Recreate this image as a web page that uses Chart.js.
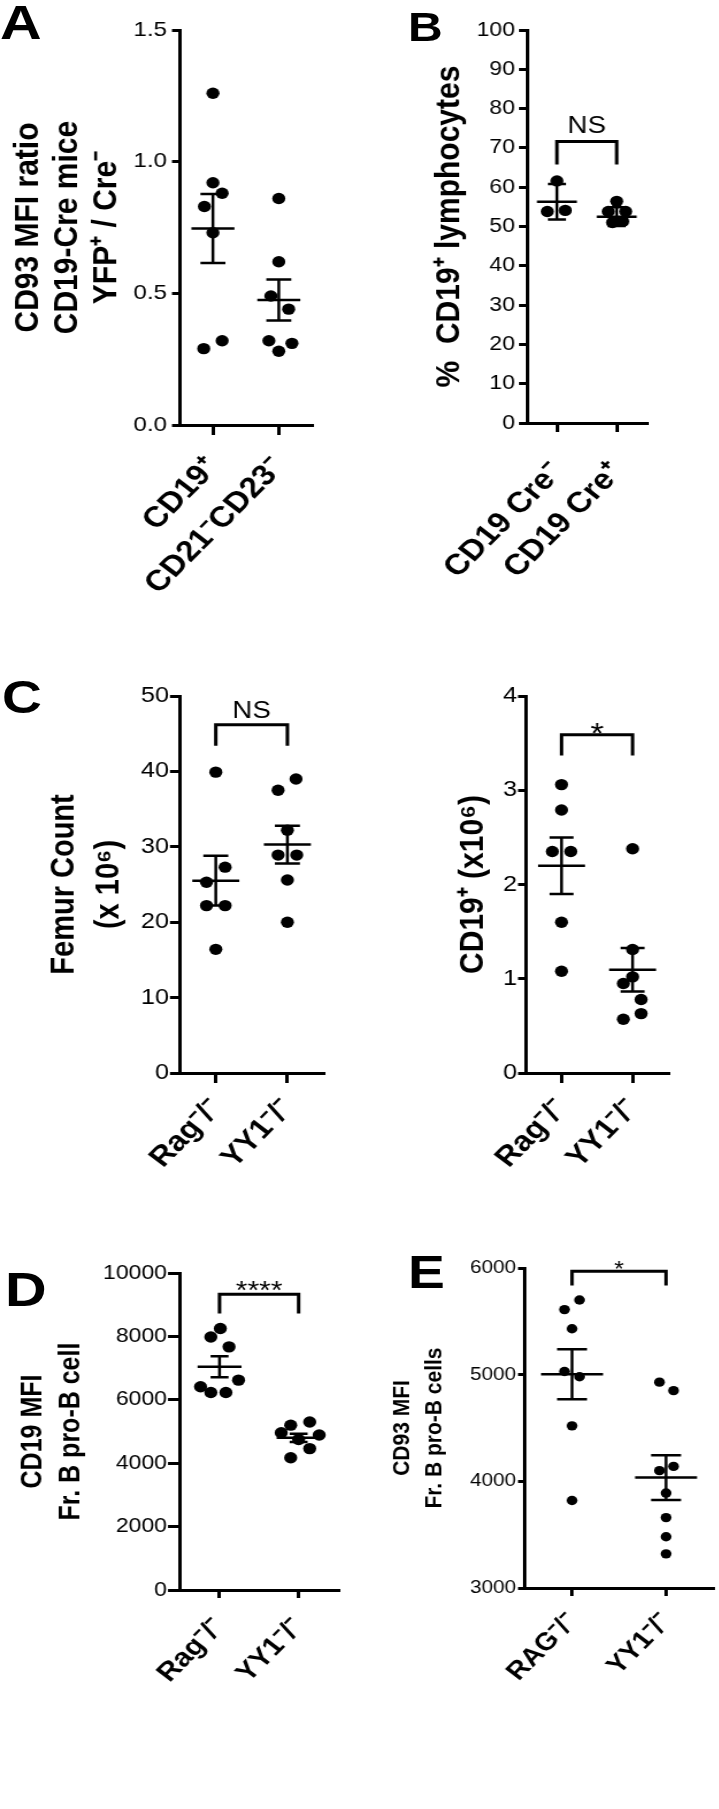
<!DOCTYPE html>
<html lang="en">
<head>
<meta charset="UTF-8">
<title>CD93 / CD19 dot plots</title>
<script src="https://cdn.jsdelivr.net/npm/chart.js"></script>
<style>
  body {
    margin: 0;
    width: 719px;
    height: 1809px;
    position: relative;
    overflow: hidden;
    background: #fff;
    font-family: 'Liberation Sans', Arial, sans-serif;
  }
  canvas { position: absolute; transform-origin: 0 0; }
  .tag {
    position: absolute; font-weight: bold; line-height: 1; color: #000;
    transform: scaleX(1.2); transform-origin: 0 0;
  }
</style>
</head>
<body>
<canvas id="panelA"></canvas>
<canvas id="panelB"></canvas>
<canvas id="panelC1"></canvas>
<canvas id="panelC2"></canvas>
<canvas id="panelD"></canvas>
<canvas id="panelE"></canvas>

<div class="tag" style="left:0;top:-1px;font-size:48px">A</div>
<div class="tag" style="left:408px;top:7px;font-size:40px">B</div>
<div class="tag" style="left:2px;top:674px;font-size:46px">C</div>
<div class="tag" style="left:5px;top:1266px;font-size:48px">D</div>
<div class="tag" style="left:408px;top:1249px;font-size:46px">E</div>

<script>
// A: CD93 MFI ratio
const aLabels = ['CD19⁺', 'CD21⁻CD23⁻'];
const aCd19 = [1.26, 0.92, 0.88, 0.83, 0.73, 0.29, 0.32];
const aCd19Jitter = [0, 0, 0.14, -0.13, 0, -0.14, 0.14];
const aCd21 = [0.86, 0.62, 0.49, 0.44, 0.32, 0.28, 0.31];
const aCd21Jitter = [0, 0, -0.12, 0.15, -0.15, 0, 0.2];
const aMean = [0.746, 0.475];
const aSem = [0.131, 0.078];

// B: % CD19+ lymphocytes
const bLabels = ['CD19 Cre⁻', 'CD19 Cre⁺'];
const bCreNeg = [61.6, 53.8, 54.1];
const bCreNegJitter = [0, -0.16, 0.14];
const bCrePos = [56.4, 53.8, 53.8, 51.0, 51.3];
const bCrePosJitter = [0, -0.14, 0.15, -0.07, 0.1];
const bMean = [56.3, 52.5];
const bSem = [4.5, 2.4];

// C: femur count and CD19+ count
const cLabels = ['Rag⁻/⁻', 'YY1⁻/⁻'];
const cFemurRag = [39.9, 27.3, 25.3, 22.2, 22.2, 16.4];
const cFemurRagJitter = [0, 0.13, -0.13, -0.13, 0.13, 0];
const cFemurYy1 = [39.0, 37.5, 32.2, 28.9, 28.9, 25.6, 20.0];
const cFemurYy1Jitter = [0.12, -0.13, 0, -0.13, 0.13, 0, 0];
const cFemurMean = [25.5, 30.3];
const cFemurSem = [3.3, 2.5];

const cCd19Rag = [3.06, 2.79, 2.35, 2.35, 1.60, 1.08];
const cCd19RagJitter = [0, 0, -0.13, 0.13, 0, 0];
const cCd19Yy1 = [2.38, 1.31, 1.02, 0.95, 0.78, 0.63, 0.57];
const cCd19Yy1Jitter = [0, 0, 0, -0.13, 0.12, 0.12, -0.13];
const cCd19Mean = [2.20, 1.095];
const cCd19Sem = [0.30, 0.23];

// D: CD19 MFI
const dLabels = ['Rag⁻/⁻', 'YY1⁻/⁻'];
const dRag = [8250, 7980, 7670, 6620, 6410, 6230, 6230];
const dRagJitter = [0.01, -0.11, 0.12, 0.24, -0.24, -0.11, 0.08];
const dYy1 = [4960, 5200, 5300, 4890, 4750, 4460, 4170];
const dYy1Jitter = [-0.22, -0.1, 0.14, 0.26, 0, 0.14, -0.1];
const dMean = [7040, 4800];
const dSem = [330, 130];

// E: CD93 MFI
const eLabels = ['RAG⁻/⁻', 'YY1⁻/⁻'];
const eRag = [5700, 5610, 5430, 5030, 4980, 4520, 3820];
const eRagJitter = [0.08, -0.08, 0, -0.08, 0.08, 0, 0];
const eYy1 = [4930, 4850, 4100, 4140, 3890, 3660, 3480, 3320];
const eYy1Jitter = [-0.07, 0.08, -0.07, 0.08, 0, 0, 0, 0];
const eMean = [5004, 4035];
const eSem = [235, 210];

// the original figure is a bit wider than tall, so every canvas is widened the same way
const STRETCH = 1.15;

Chart.defaults.font.family = "'Liberation Sans', Arial, sans-serif";
Chart.defaults.color = '#000';

// mean +/- SEM bars and the significance bracket
const dotPlotExtras = {
  id: 'dotPlotExtras',
  afterDatasetsDraw(chart, args, opts) {
    const { ctx } = chart;
    const x = chart.scales.x, y = chart.scales.y;
    ctx.save();
    ctx.strokeStyle = '#000';
    ctx.fillStyle = '#000';
    ctx.lineWidth = 2.5;
    opts.means.forEach((m, i) => {
      const cx = x.getPixelForValue(i + 1);
      const ym = y.getPixelForValue(m);
      const yt = y.getPixelForValue(m + opts.sems[i]);
      const yb = y.getPixelForValue(m - opts.sems[i]);
      ctx.beginPath();
      ctx.moveTo(cx - opts.meanHalf, ym); ctx.lineTo(cx + opts.meanHalf, ym);
      ctx.moveTo(cx - opts.capHalf, yt); ctx.lineTo(cx + opts.capHalf, yt);
      ctx.moveTo(cx - opts.capHalf, yb); ctx.lineTo(cx + opts.capHalf, yb);
      ctx.moveTo(cx, yt); ctx.lineTo(cx, yb);
      ctx.stroke();
    });
    const b = opts.bracket;
    if (b) {
      const x1 = x.getPixelForValue(1), x2 = x.getPixelForValue(2);
      const yl = y.getPixelForValue(b.y), tip = y.getPixelForValue(b.tip);
      ctx.lineWidth = 3;
      ctx.beginPath();
      ctx.moveTo(x1, tip); ctx.lineTo(x1, yl); ctx.lineTo(x2, yl); ctx.lineTo(x2, tip);
      ctx.stroke();
      ctx.font = b.size + "px 'Liberation Sans', Arial, sans-serif";
      ctx.textAlign = 'center';
      ctx.textBaseline = 'alphabetic';
      ctx.fillText(b.label, (x1 + x2) / 2, yl - b.gap);
    }
    ctx.restore();
  }
};

// p.box = [left, top, width, height] on the page; horizontal sizes are given in page px
function dotPanel(id, p) {
  const k = STRETCH;
  const [left, top, width, height] = p.box;
  const cv = document.getElementById(id);
  cv.width = Math.round(width / k);
  cv.height = height;
  cv.style.left = left + 'px';
  cv.style.top = top + 'px';
  cv.style.transform = 'scaleX(' + k + ')';

  const lines = Array.isArray(p.title) ? p.title.length : 1;
  const lh = lines > 1 ? p.titleGap / k / p.titleSize : 1.2;
  const rot = Math.atan(k) * 180 / Math.PI;

  return new Chart(cv, {
    type: 'scatter',
    data: {
      datasets: p.groups.map((g, i) => ({
        data: g.vals.map((v, j) => ({ x: i + 1 + g.jitter[j], y: v })),
        pointRadius: p.dot,
        pointHoverRadius: p.dot,
        backgroundColor: '#000',
        borderWidth: 0
      }))
    },
    options: {
      responsive: false,
      animation: false,
      layout: { padding: { top: p.padTop, right: (left + width - p.plotRight) / k, left: 0, bottom: 0 } },
      plugins: {
        legend: { display: false },
        tooltip: { enabled: false },
        dotPlotExtras: {
          means: p.means, sems: p.sems,
          meanHalf: p.meanHalf / k, capHalf: p.capHalf / k,
          bracket: p.bracket
        }
      },
      scales: {
        x: {
          type: 'linear', min: 0.5, max: 2.5,
          afterBuildTicks: s => { s.ticks = [{ value: 1 }, { value: 2 }]; },
          // fixed box: long slanted labels must not squeeze the plot area
          afterFit: s => { s.height = p.xHeight; s.paddingLeft = 0; s.paddingRight = 0; },
          grid: { drawOnChartArea: false, tickLength: p.xTick, lineWidth: 3, color: '#000' },
          border: { color: '#000', width: 3 },
          ticks: {
            autoSkip: false, minRotation: rot, maxRotation: rot, padding: p.xPad,
            font: { size: p.xFont, weight: 'bold' },
            callback: v => p.labels[v - 1]
          }
        },
        y: {
          min: p.yMin, max: p.yMax,
          afterFit: s => { s.width = (p.plotLeft - left) / k; },
          grid: { drawOnChartArea: false, tickLength: p.yTick / k, lineWidth: 3, color: '#000' },
          border: { color: '#000', width: 3 },
          ticks: {
            stepSize: p.yStep, padding: p.yPad / k,
            font: { size: p.yFont },
            callback: p.yFmt || (v => String(v))
          },
          title: {
            display: true, text: p.title,
            font: { size: p.titleSize, weight: 'bold', lineHeight: lh },
            padding: { top: p.titleX / k - p.titleSize * lh / 2, bottom: 0 }
          }
        }
      }
    },
    plugins: [dotPlotExtras]
  });
}

dotPanel('panelA', {
  box: [0, 10, 320, 610], plotLeft: 180, plotRight: 312, padTop: 20, xHeight: 195,
  labels: aLabels,
  groups: [{ vals: aCd19, jitter: aCd19Jitter }, { vals: aCd21, jitter: aCd21Jitter }],
  means: aMean, sems: aSem, meanHalf: 21.5, capHalf: 12.5, dot: 5.7,
  yMin: 0, yMax: 1.5, yStep: 0.5, yFmt: v => v.toFixed(1), yFont: 21, yTick: 8, yPad: 5,
  title: ['CD93 MFI ratio', 'CD19-Cre mice', 'YFP⁺ / Cre⁻'], titleSize: 30, titleGap: 39.5, titleX: 28,
  xFont: 29, xTick: 10, xPad: 16
});

dotPanel('panelB', {
  box: [420, 10, 235, 608], plotLeft: 527, plotRight: 647, padTop: 20, xHeight: 195,
  labels: bLabels,
  groups: [{ vals: bCreNeg, jitter: bCreNegJitter }, { vals: bCrePos, jitter: bCrePosJitter }],
  means: bMean, sems: bSem, meanHalf: 20, capHalf: 9, dot: 5.7,
  bracket: { y: 71.6, tip: 65.8, label: 'NS', size: 24, gap: 9 },
  yMin: 0, yMax: 100, yStep: 10, yFont: 20, yTick: 8, yPad: 4,
  title: '%  CD19⁺ lymphocytes', titleSize: 30, titleX: 30,
  xFont: 29, xTick: 9, xPad: 24
});

dotPanel('panelC1', {
  box: [0, 676, 331, 537], plotLeft: 180, plotRight: 323, padTop: 20, xHeight: 140,
  labels: cLabels,
  groups: [{ vals: cFemurRag, jitter: cFemurRagJitter }, { vals: cFemurYy1, jitter: cFemurYy1Jitter }],
  means: cFemurMean, sems: cFemurSem, meanHalf: 23.5, capHalf: 12.5, dot: 5.7,
  bracket: { y: 46.2, tip: 43.4, label: 'NS', size: 24, gap: 7 },
  yMin: 0, yMax: 50, yStep: 10, yFont: 22, yTick: 10, yPad: 1,
  title: ['Femur Count', '(x 10⁶)'], titleSize: 29, titleGap: 45, titleX: 64,
  xFont: 28, xTick: 10, xPad: 10
});

dotPanel('panelC2', {
  box: [430, 676, 246, 537], plotLeft: 526, plotRight: 668, padTop: 20, xHeight: 140,
  labels: cLabels,
  groups: [{ vals: cCd19Rag, jitter: cCd19RagJitter }, { vals: cCd19Yy1, jitter: cCd19Yy1Jitter }],
  means: cCd19Mean, sems: cCd19Sem, meanHalf: 23.5, capHalf: 12, dot: 5.7,
  bracket: { y: 3.59, tip: 3.37, label: '*', size: 30, gap: -8.4 },
  yMin: 0, yMax: 4, yStep: 1, yFont: 22, yTick: 8, yPad: 1,
  title: 'CD19⁺ (x10⁶)', titleSize: 30, titleX: 43,
  xFont: 28, xTick: 10, xPad: 10
});

dotPanel('panelD', {
  box: [0, 1253, 346, 552], plotLeft: 180, plotRight: 338, padTop: 20, xHeight: 215,
  labels: dLabels,
  groups: [{ vals: dRag, jitter: dRagJitter }, { vals: dYy1, jitter: dYy1Jitter }],
  means: dMean, sems: dSem, meanHalf: 22, capHalf: 9, dot: 5.7,
  bracket: { y: 9330, tip: 8720, label: '****', size: 26, gap: -5.1 },
  yMin: 0, yMax: 10000, yStep: 2000, yFont: 20, yTick: 12, yPad: 1,
  title: ['CD19 MFI', 'Fr. B pro-B cell'], titleSize: 25, titleGap: 38, titleX: 34,
  xFont: 26, xTick: 8, xPad: 14
});

dotPanel('panelE', {
  box: [370, 1238, 349, 565], plotLeft: 525, plotRight: 717, padTop: 30, xHeight: 215,
  labels: eLabels,
  groups: [{ vals: eRag, jitter: eRagJitter }, { vals: eYy1, jitter: eYy1Jitter }],
  means: eMean, sems: eSem, meanHalf: 31, capHalf: 15, dot: 4.7,
  bracket: { y: 5969, tip: 5837, label: '*', size: 22, gap: -4.8 },
  yMin: 3000, yMax: 6000, yStep: 1000, yFont: 18, yTick: 7, yPad: 2,
  title: ['CD93 MFI', 'Fr. B pro-B cells'], titleSize: 21, titleGap: 32, titleX: 33,
  xFont: 25, xTick: 8, xPad: 12
});
</script>
</body>
</html>
